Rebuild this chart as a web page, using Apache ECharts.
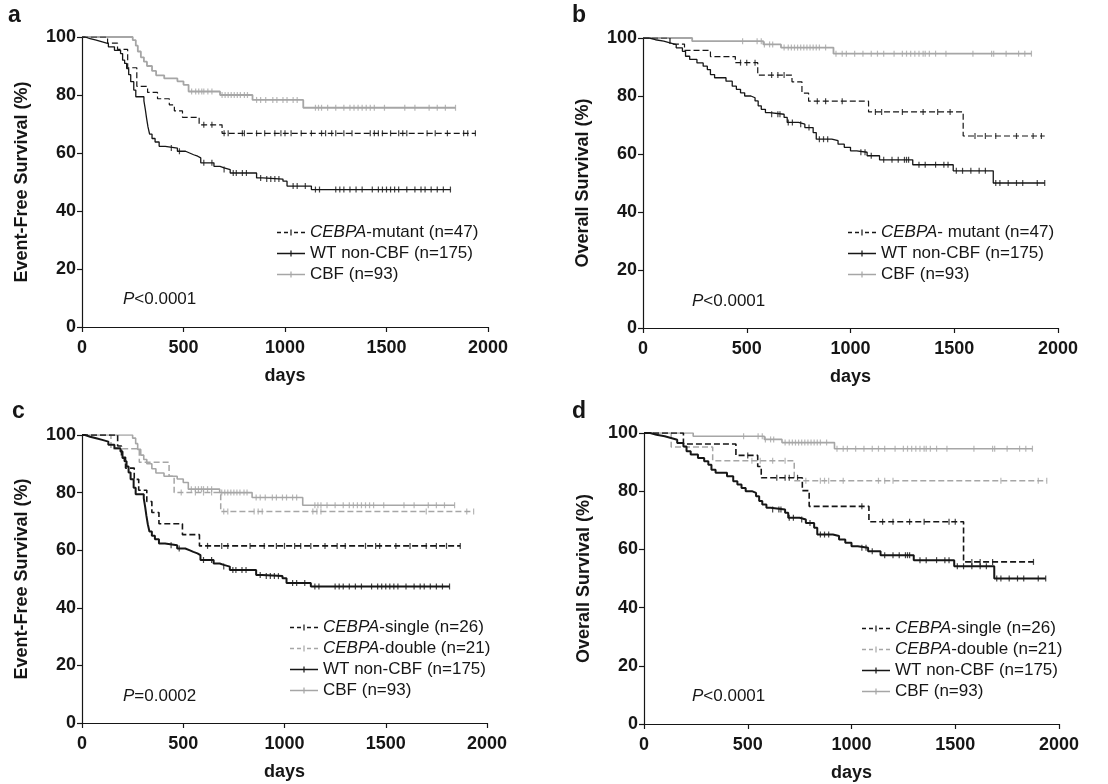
<!DOCTYPE html>
<html>
<head>
<meta charset="utf-8">
<script src="https://cdn.jsdelivr.net/npm/echarts@6/dist/echarts.min.js"></script>
<style>
  html, body { margin: 0; padding: 0; background: #fff; }
  #main { width: 1108px; height: 784px; }
</style>
</head>
<body>
<div id="main"></div>
<script>
// Kaplan-Meier curves: [day, survival %], last point = last follow-up
const efsMutant = [[0,100],[126,97.9],[175,95.7],[225,89.4],[270,83],[323,80.9],[372,78.7],[430,76.6],[455,74.5],[495,72.3],[577,69.7],[690,66.8],[1938,66.8]];
const efsMutantCens = [600,640,700,720,790,800,860,900,950,980,1000,1030,1080,1130,1180,1200,1230,1250,1290,1330,1420,1440,1460,1480,1520,1560,1580,1600,1700,1740,1800,1880,1900,1938];

const efsWt = [[0,100],[15,99.4],[40,98.9],[70,98.3],[100,97.7],[130,96.6],[160,95.4],[190,94.3],[200,92],[210,90.9],[220,89.1],[230,87],[240,84.6],[255,81.7],[265,79.4],[305,78],[312,75],[318,72],[325,69],[333,66.5],[345,65],[360,63.8],[380,62.3],[410,61.7],[470,60.6],[510,60],[530,59.4],[550,58.9],[570,58.3],[585,56.6],[650,55.4],[680,54.9],[700,54.3],[730,53.1],[860,51.4],[890,51],[990,50.3],[1010,48.6],[1130,47.4],[1815,47.4]];
const efsWtCens = [440,480,600,640,700,745,760,790,810,880,910,930,950,970,1040,1060,1100,1150,1170,1250,1270,1290,1320,1350,1380,1430,1460,1480,1500,1520,1540,1560,1600,1640,1670,1690,1720,1750,1780,1815];

const efsCbf = [[0,100],[250,98.9],[265,97],[275,95],[290,93],[305,91.5],[320,90],[345,88.3],[365,86.8],[405,85.7],[470,84.7],[500,83.5],[525,81.2],[680,80],[840,78.3],[1090,75.6],[1840,75.6]];
const efsCbfCens = [540,560,575,590,600,620,640,690,705,720,735,750,765,780,800,815,860,880,905,940,960,990,1010,1040,1060,1150,1165,1180,1210,1250,1290,1320,1340,1360,1380,1400,1420,1440,1490,1590,1640,1710,1750,1790,1840];

const efsSingle = [[0,100],[176,96.2],[195,92.3],[215,88.5],[258,84.6],[280,80.8],[320,76.9],[345,73.1],[380,69.2],[496,65.4],[580,61.5],[1868,61.5]];
const efsSingleCens = [620,690,720,830,900,960,1000,1050,1080,1130,1200,1260,1300,1400,1450,1470,1550,1620,1700,1750,1800,1868];

const efsDouble = [[0,100],[143,95.2],[283,90.5],[430,85.7],[455,80],[685,73.4],[1934,73.4]];
const efsDoubleCens = [490,560,600,640,700,720,850,870,890,1140,1160,1180,1700,1900,1934];

const osMutant = [[0,100],[130,97.9],[200,95.7],[325,93.6],[445,91.5],[553,87.2],[718,84.9],[766,81],[798,78.2],[1087,74.5],[1543,66.2],[1936,66.2]];
const osMutantCens = [470,500,540,620,650,680,840,880,960,1120,1150,1250,1350,1420,1480,1600,1650,1700,1800,1880,1920];

const osWt = [[0,100],[30,99.4],[60,98.9],[100,98.3],[130,97.7],[160,96.6],[190,95.4],[205,93.7],[225,92.6],[260,91.4],[290,90.3],[310,89.1],[325,87.4],[345,86.3],[400,85.1],[430,83.4],[450,82.3],[470,81.1],[490,80],[520,79.4],[540,78.3],[555,76.6],[570,75.4],[590,74.3],[610,73.7],[680,72.6],[695,70.9],[750,70.3],[780,69.1],[820,67.4],[835,65.1],[910,64.6],[940,63.4],[970,62.3],[1000,61.1],[1030,60.6],[1080,59.4],[1140,58],[1300,56.3],[1495,54.2],[1688,50],[1936,50]];
const osWtCens = [620,650,660,700,720,760,800,850,870,890,1050,1070,1100,1160,1200,1230,1260,1270,1280,1330,1360,1410,1450,1470,1510,1540,1580,1620,1650,1700,1720,1760,1800,1830,1900,1936];

const osCbf = [[0,100],[237,98.9],[580,97.8],[665,96.7],[918,94.6],[1872,94.6]];
const osCbfCens = [480,550,570,585,610,625,680,700,715,730,745,760,775,790,805,820,835,850,880,930,960,980,1020,1060,1100,1130,1160,1210,1250,1270,1290,1310,1330,1350,1360,1380,1410,1460,1590,1680,1690,1750,1810,1840,1872];

const osSingle = [[0,100],[190,96.2],[443,92.3],[548,88.5],[565,84.6],[763,80.2],[796,74.8],[1084,69.5],[1540,55.7],[1877,55.7]];
const osSingleCens = [500,640,680,700,740,1050,1150,1200,1280,1350,1470,1500,1580,1620,1680,1877];

const osDouble = [[0,100],[131,95.2],[331,90.5],[724,83.6],[1941,83.6]];
const osDoubleCens = [520,560,620,680,780,850,870,890,960,1130,1160,1200,1720,1900,1941];

const xTicks = [0, 500, 1000, 1500, 2000];
const yTicks = [0, 20, 40, 60, 80, 100];

const nMutA = 'CEBPA-mutant (n=47)';
const nMutB = 'CEBPA- mutant (n=47)';
const nSingle = 'CEBPA-single (n=26)';
const nDouble = 'CEBPA-double (n=21)';
const nWt = 'WT non-CBF (n=175)';
const nCbf = 'CBF (n=93)';

const BLACK = '#161616';
const GRAY = '#a6a6a6';
const FONT = '"Liberation Sans", Arial, Helvetica, sans-serif';

const ICON_SOLID = 'path://M0,2.3L28,2.3L28,3.7L0,3.7Z M13.4,0L14.6,0L14.6,6L13.4,6Z';
const ICON_DASH = 'path://M0,2.3L4,2.3L4,3.7L0,3.7Z M7,2.3L11,2.3L11,3.7L7,3.7Z M17,2.3L21,2.3L21,3.7L17,3.7Z M24,2.3L28,2.3L28,3.7L24,3.7Z M13.4,0L14.6,0L14.6,6L13.4,6Z';

function levelAt(curve, t) {
  let y = curve[0][1];
  for (const p of curve) { if (p[0] <= t) y = p[1]; }
  return y;
}

function km(name, data, cens, gi, color, width, dashed) {
  return [
    {
      type: 'line', name: name, data: data, step: 'end',
      xAxisIndex: gi, yAxisIndex: gi, symbol: 'none', silent: true,
      lineStyle: { color: color, width: width, type: dashed ? [6, 3] : 'solid' },
      itemStyle: { color: color }
    },
    {
      type: 'scatter', name: name + ' censored',
      data: cens.map(t => [t, levelAt(data, t)]),
      xAxisIndex: gi, yAxisIndex: gi, symbol: 'rect', symbolSize: [1.2, 6], silent: true,
      itemStyle: { color: color }
    }
  ];
}

const grids = [
  { left: 82, top: 37, width: 406, height: 290 },
  { left: 643, top: 38, width: 415, height: 290 },
  { left: 82, top: 435, width: 405, height: 288 },
  { left: 644, top: 433, width: 415, height: 291 }
];
const yNames = ['Event-Free Survival (%)', 'Overall Survival (%)', 'Event-Free Survival (%)', 'Overall Survival (%)'];

const xAxes = grids.map((g, i) => ({
  type: 'value', gridIndex: i, min: xTicks[0], max: xTicks[xTicks.length - 1], interval: 500,
  name: 'days', nameLocation: 'middle', nameGap: 40,
  nameTextStyle: { fontFamily: FONT, fontWeight: 'bold', fontSize: 18, color: BLACK },
  axisLine: { show: true, onZero: false, lineStyle: { color: BLACK, width: 1.2 } },
  axisTick: { show: true, inside: false, length: 5, lineStyle: { color: BLACK, width: 1.2 } },
  axisLabel: { fontFamily: FONT, fontWeight: 'bold', fontSize: 18, color: BLACK, margin: 12, formatter: v => String(v) },
  splitLine: { show: false }
}));
const yAxes = grids.map((g, i) => ({
  type: 'value', gridIndex: i, min: yTicks[0], max: yTicks[yTicks.length - 1], interval: 20,
  name: yNames[i], nameLocation: 'middle', nameGap: 51,
  nameTextStyle: { fontFamily: FONT, fontWeight: 'bold', fontSize: 18, color: BLACK },
  axisLine: { show: true, lineStyle: { color: BLACK, width: 1.2 } },
  axisTick: { show: true, inside: false, length: 5, lineStyle: { color: BLACK, width: 1.2 } },
  axisLabel: { fontFamily: FONT, fontWeight: 'bold', fontSize: 18, color: BLACK, margin: 6, formatter: v => String(v) },
  splitLine: { show: false }
}));

const series = [].concat(
  km(nCbf, efsCbf, efsCbfCens, 0, GRAY, 1.8, false),
  km(nMutA, efsMutant, efsMutantCens, 0, BLACK, 1.2, true),
  km(nWt, efsWt, efsWtCens, 0, BLACK, 1.3, false),

  km(nCbf, osCbf, osCbfCens, 1, GRAY, 1.8, false),
  km(nMutB, osMutant, osMutantCens, 1, BLACK, 1.2, true),
  km(nWt, osWt, osWtCens, 1, BLACK, 1.3, false),

  km(nCbf, efsCbf, efsCbfCens, 2, GRAY, 1.6, false),
  km(nDouble, efsDouble, efsDoubleCens, 2, GRAY, 1.5, true),
  km(nSingle, efsSingle, efsSingleCens, 2, BLACK, 1.6, true),
  km(nWt, efsWt, efsWtCens, 2, BLACK, 2, false),

  km(nCbf, osCbf, osCbfCens, 3, GRAY, 1.6, false),
  km(nDouble, osDouble, osDoubleCens, 3, GRAY, 1.5, true),
  km(nSingle, osSingle, osSingleCens, 3, BLACK, 1.6, true),
  km(nWt, osWt, osWtCens, 3, BLACK, 2, false)
);

function legendLabel(name) {
  if (name.indexOf('CEBPA') === 0) return '{i|CEBPA}{r|' + name.slice(5) + '}';
  return '{r|' + name + '}';
}
const legendRich = {
  i: { fontFamily: FONT, fontStyle: 'italic', fontSize: 17, lineHeight: 17, color: BLACK },
  r: { fontFamily: FONT, fontSize: 17, lineHeight: 17, color: BLACK }
};
function legend(left, top, items) {
  return {
    orient: 'vertical', left: left, top: top, padding: 0,
    itemWidth: 28, itemHeight: 6, itemGap: 4, selectedMode: false,
    data: items.map(it => ({ name: it[0], icon: it[1] })),
    formatter: legendLabel,
    textStyle: { rich: legendRich, padding: [0, 0, 0, 0] }
  };
}

function label(text, x, y) {
  return { type: 'text', left: x, top: y, style: { text: text, font: 'bold 23px ' + FONT, fill: BLACK } };
}
function pval(text, x, y) {
  return {
    type: 'text', left: x, top: y,
    style: {
      text: '{i|P}{r|' + text + '}',
      rich: {
        i: { fontFamily: FONT, fontStyle: 'italic', fontSize: 17, fill: BLACK },
        r: { fontFamily: FONT, fontSize: 17, fill: BLACK }
      }
    }
  };
}

const chart = echarts.init(document.getElementById('main'));
chart.setOption({
  animation: false,
  backgroundColor: '#fff',
  grid: grids,
  xAxis: xAxes,
  yAxis: yAxes,
  legend: [
    legend(277, 224, [[nMutA, ICON_DASH], [nWt, ICON_SOLID], [nCbf, ICON_SOLID]]),
    legend(848, 224, [[nMutB, ICON_DASH], [nWt, ICON_SOLID], [nCbf, ICON_SOLID]]),
    legend(290, 619, [[nSingle, ICON_DASH], [nDouble, ICON_DASH], [nWt, ICON_SOLID], [nCbf, ICON_SOLID]]),
    legend(862, 620, [[nSingle, ICON_DASH], [nDouble, ICON_DASH], [nWt, ICON_SOLID], [nCbf, ICON_SOLID]])
  ],
  graphic: [
    label('a', 8, 4), label('b', 572, 4), label('c', 12, 400), label('d', 572, 400),
    pval('<0.0001', 123, 291), pval('<0.0001', 692, 293),
    pval('=0.0002', 123, 688), pval('<0.0001', 692, 688)
  ],
  series: series
});
</script>
</body>
</html>
